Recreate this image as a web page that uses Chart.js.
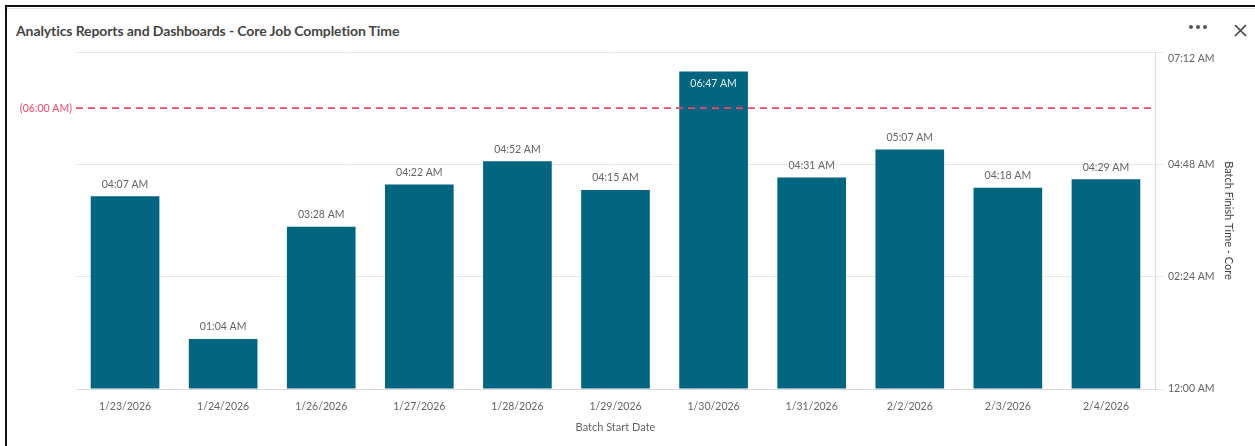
<!DOCTYPE html>
<html>
<head>
<meta charset="utf-8">
<title>Core Job Completion Time</title>
<script src="https://cdn.jsdelivr.net/npm/chart.js@4"></script>
<style>
    html, body { margin: 0; padding: 0; background: #fff; }
    body { width: 1255px; height: 446px; position: relative; overflow: hidden; font-family: Lato, "Noto Sans", sans-serif; }
    .frame { position: absolute; left: 5px; top: 5px; right: -10px; bottom: -10px; border-top: 2px solid #111; border-left: 2px solid #111; }
    .frame::after { content: ''; position: absolute; left: 0; right: 0; top: 1px; height: 1px; background: #e4e4e4; }
    .title { position: absolute; left: 16px; top: 22px; font-size: 14px; font-weight: 700; color: #444; letter-spacing: -0.1px; }
    .dots { position: absolute; left: 1189px; top: 25px; display: flex; gap: 3px; }
    .dots span { width: 4px; height: 4px; border-radius: 50%; background: #555; }
    .close { position: absolute; left: 1234px; top: 24px; }
    #chart { position: absolute; left: 0; top: 0; }
</style>
</head>
<body>
<div class="frame"></div>
<div class="title">Analytics Reports and Dashboards - Core Job Completion Time</div>
<div class="dots"><span></span><span></span><span></span></div>
<svg class="close" width="13" height="13" viewBox="0 0 13 13">
    <path d="M1 1 L12 12 M12 1 L1 12" stroke="#444" stroke-width="1.7" fill="none"/>
</svg>
<canvas id="chart" width="1255" height="446"></canvas>
<script>
document.addEventListener('DOMContentLoaded', function () {
    // values
    const batchDates = ['1/23/2026', '1/24/2026', '1/26/2026', '1/27/2026', '1/28/2026', '1/29/2026',
        '1/30/2026', '1/31/2026', '2/2/2026', '2/3/2026', '2/4/2026'];
    const finishTimes = ['04:07', '01:04', '03:28', '04:22', '04:52', '04:15',
        '06:47', '04:31', '05:07', '04:18', '04:29'];
    const targetTime = '06:00';
    const axisMaxTime = '07:12';
    const axisStepTime = '02:24';

    const barColor = '#03657f';
    const textGray = '#636363';
    const targetColor = '#f2476a';

    function toMinutes(t) {
        const parts = t.split(':');
        return parseInt(parts[0], 10) * 60 + parseInt(parts[1], 10);
    }

    function fmtTime(min) {
        const h = Math.floor(min / 60);
        const m = Math.round(min % 60);
        const suffix = h < 12 ? 'AM' : 'PM';
        const h12 = (h % 12) || 12;
        return String(h12).padStart(2, '0') + ':' + String(m).padStart(2, '0') + ' ' + suffix;
    }

    const finishMinutes = finishTimes.map(toMinutes);
    const targetMinutes = toMinutes(targetTime);
    const axisMax = toMinutes(axisMaxTime);

    // value labels above each bar (inside when there is no room)
    const barLabels = {
        id: 'barLabels',
        afterDatasetsDraw(chart) {
            const { ctx, chartArea } = chart;
            const meta = chart.getDatasetMeta(0);
            ctx.save();
            ctx.font = '10.5px Lato';
            ctx.textAlign = 'center';
            ctx.textBaseline = 'middle';
            meta.data.forEach((bar, i) => {
                let y = bar.y - 12;
                let color = textGray;
                if (y - 8 < chartArea.top + 8) {
                    y = bar.y + 12;
                    color = '#e3eef2';
                }
                ctx.fillStyle = color;
                ctx.fillText(fmtTime(finishMinutes[i]), bar.x, y);
            });
            ctx.restore();
        }
    };

    // dashed target line with its label on the left
    const targetLine = {
        id: 'targetLine',
        afterDatasetsDraw(chart) {
            const { ctx, chartArea, scales } = chart;
            const y = scales.y.getPixelForValue(targetMinutes);
            ctx.save();
            ctx.strokeStyle = targetColor;
            ctx.lineWidth = 1.6;
            ctx.setLineDash([7, 5]);
            ctx.beginPath();
            ctx.moveTo(chartArea.left, y);
            ctx.lineTo(chartArea.right, y);
            ctx.stroke();
            ctx.setLineDash([]);
            ctx.fillStyle = targetColor;
            ctx.font = '10.5px Lato';
            ctx.textAlign = 'right';
            ctx.textBaseline = 'middle';
            ctx.fillText('(' + fmtTime(targetMinutes) + ')', chartArea.left - 4, y);
            ctx.restore();
        }
    };

    new Chart(document.getElementById('chart'), {
        type: 'bar',
        data: {
            labels: batchDates,
            datasets: [{
                label: 'Batch Finish Time - Core',
                data: finishMinutes,
                backgroundColor: barColor,
                barPercentage: 0.7,
                categoryPercentage: 1.0
            }]
        },
        options: {
            responsive: false,
            animation: false,
            layout: { padding: { left: 76, top: 52, right: 0, bottom: 0 } },
            plugins: {
                legend: { display: false },
                tooltip: { enabled: false }
            },
            scales: {
                x: {
                    grid: { display: false, drawTicks: false },
                    border: { display: true, color: '#d9d9d9', width: 1 },
                    ticks: { color: textGray, font: { family: 'Lato', size: 10.5 }, padding: 11, maxRotation: 0 },
                    title: {
                        display: true,
                        text: 'Batch Start Date',
                        color: textGray,
                        font: { family: 'Lato', size: 11 },
                        padding: { top: 0, bottom: 12 }
                    },
                    afterFit(scale) { scale.height = 57; }
                },
                y: {
                    position: 'right',
                    min: 0,
                    max: axisMax,
                    grid: { color: '#e9e9e9', tickLength: 8 },
                    border: { display: true, color: '#d9d9d9', width: 1 },
                    ticks: {
                        stepSize: toMinutes(axisStepTime),
                        color: textGray,
                        padding: 5,
                        font: { family: 'Lato', size: 10.5 },
                        callback: function (value) {
                            const label = fmtTime(value);
                            return value >= axisMax ? ['', label] : label;
                        }
                    },
                    title: {
                        display: true,
                        text: 'Batch Finish Time - Core',
                        color: '#404040',
                        font: { family: 'Lato', size: 11 },
                        padding: { top: 20, bottom: 0 }
                    },
                    afterFit(scale) { scale.width = 100; }
                }
            }
        },
        plugins: [barLabels, targetLine]
    });
});
</script>
</body>
</html>
